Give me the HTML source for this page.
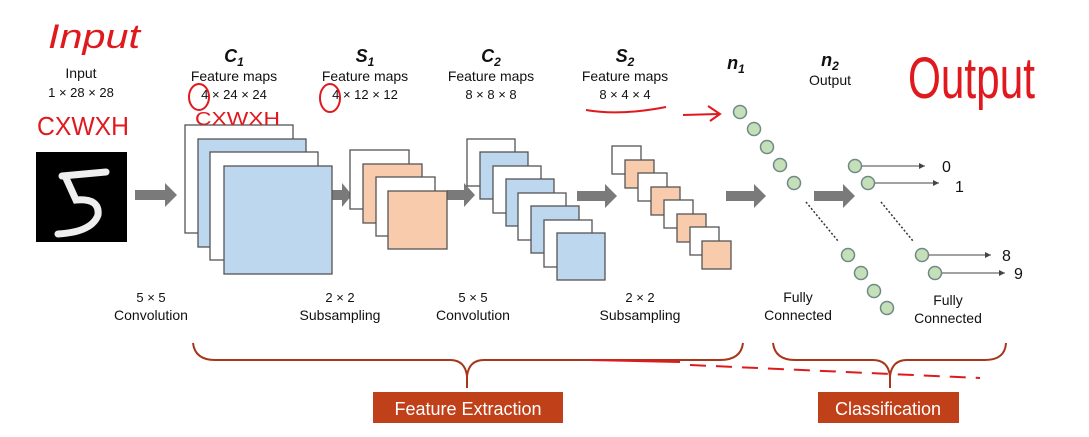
<!DOCTYPE html>
<html><head><meta charset="utf-8"><style>
html,body{margin:0;padding:0;background:#fff;}
svg{display:block;}
text{font-family:"Liberation Sans",sans-serif;}
</style></head><body>
<svg width="1089" height="437" viewBox="0 0 1089 437" xmlns="http://www.w3.org/2000/svg">
<defs>
<marker id="ah" markerWidth="8" markerHeight="8" refX="6" refY="3" orient="auto"><path d="M0,0 L6,3 L0,6 z" fill="#444"/></marker>
</defs>
<rect width="1089" height="437" fill="#fff"/>
<!-- top labels -->
<g fill="#111" font-size="14" text-anchor="middle">
<text x="81" y="78">Input</text>
<text x="81" y="97" font-size="13">1 × 28 × 28</text>
<text x="234" y="62" font-family="Liberation Serif" font-style="italic" font-weight="bold" font-size="18">C<tspan font-size="12" dy="4">1</tspan></text>
<text x="234" y="81">Feature maps</text>
<text x="234" y="99" font-size="13">4 × 24 × 24</text>
<text x="365" y="62" font-family="Liberation Serif" font-style="italic" font-weight="bold" font-size="18">S<tspan font-size="12" dy="4">1</tspan></text>
<text x="365" y="81">Feature maps</text>
<text x="365" y="99" font-size="13">4 × 12 × 12</text>
<text x="491" y="62" font-family="Liberation Serif" font-style="italic" font-weight="bold" font-size="18">C<tspan font-size="12" dy="4">2</tspan></text>
<text x="491" y="81">Feature maps</text>
<text x="491" y="99" font-size="13">8 × 8 × 8</text>
<text x="625" y="62" font-family="Liberation Serif" font-style="italic" font-weight="bold" font-size="18">S<tspan font-size="12" dy="4">2</tspan></text>
<text x="625" y="81">Feature maps</text>
<text x="625" y="99" font-size="13">8 × 4 × 4</text>
<text x="736" y="69" font-family="Liberation Serif" font-style="italic" font-weight="bold" font-size="18">n<tspan font-size="12" dy="4">1</tspan></text>
<text x="830" y="66" font-family="Liberation Serif" font-style="italic" font-weight="bold" font-size="18">n<tspan font-size="12" dy="4">2</tspan></text>
<text x="830" y="85">Output</text>
</g>
<!-- input image -->
<rect x="36" y="152" width="91" height="90" fill="#000"/>
<path d="M62,176 L106,172 M66,178 L76,200 Q100,198 98,215 Q92,232 58,234" stroke="#eee" stroke-width="7" fill="none" stroke-linecap="round"/>
<!-- gray arrows -->
<g fill="#7a7a7a">
<path d="M135,190 h30 v-7 l12,12 l-12,12 v-7 h-30z"/>
<path d="M332,190 h10 v-7 l10,12 l-10,12 v-7 h-10z"/>
<path d="M447,190 h17 v-7 l11,12 l-11,12 v-7 h-17z"/>
<path d="M577,191 h28 v-7 l12,12 l-12,12 v-7 h-28z"/>
<path d="M726,191 h28 v-7 l12,12 l-12,12 v-7 h-28z"/>
<path d="M814,191 h29 v-7 l12,12 l-12,12 v-7 h-29z"/>
</g>
<!-- C1 -->
<g stroke="#555" stroke-width="1.3">
<rect x="185" y="125" width="108" height="108" fill="#fff"/>
<rect x="198" y="139" width="108" height="108" fill="#bdd7ee"/>
<rect x="210" y="152" width="108" height="108" fill="#fff"/>
<rect x="224" y="166" width="108" height="108" fill="#bdd7ee"/>
<!-- S1 -->
<rect x="350" y="150" width="59" height="59" fill="#fff"/>
<rect x="363" y="164" width="59" height="59" fill="#f8cbad"/>
<rect x="376" y="177" width="59" height="59" fill="#fff"/>
<rect x="388" y="191" width="59" height="58" fill="#f8cbad"/>
<!-- C2 -->
<rect x="467" y="139" width="48" height="47" fill="#fff"/>
<rect x="480" y="152" width="48" height="47" fill="#bdd7ee"/>
<rect x="493" y="166" width="48" height="47" fill="#fff"/>
<rect x="506" y="179" width="48" height="47" fill="#bdd7ee"/>
<rect x="518" y="193" width="48" height="47" fill="#fff"/>
<rect x="531" y="206" width="48" height="47" fill="#bdd7ee"/>
<rect x="544" y="220" width="48" height="47" fill="#fff"/>
<rect x="557" y="233" width="48" height="47" fill="#bdd7ee"/>
<!-- S2 -->
<rect x="612" y="146" width="29" height="28" fill="#fff"/>
<rect x="625" y="160" width="29" height="28" fill="#f8cbad"/>
<rect x="638" y="173" width="29" height="28" fill="#fff"/>
<rect x="651" y="187" width="29" height="28" fill="#f8cbad"/>
<rect x="664" y="200" width="29" height="28" fill="#fff"/>
<rect x="677" y="214" width="29" height="28" fill="#f8cbad"/>
<rect x="690" y="227" width="29" height="28" fill="#fff"/>
<rect x="702" y="241" width="29" height="28" fill="#f8cbad"/>
</g>
<!-- neurons -->
<g fill="#c5dfb9" stroke="#6e8a86" stroke-width="1.5">
<circle cx="740" cy="112" r="6.5"/><circle cx="754" cy="129" r="6.5"/><circle cx="767" cy="147" r="6.5"/><circle cx="780" cy="165" r="6.5"/><circle cx="794" cy="183" r="6.5"/>
<circle cx="848" cy="255" r="6.5"/><circle cx="861" cy="273" r="6.5"/><circle cx="874" cy="291" r="6.5"/><circle cx="887" cy="308" r="6.5"/>
<circle cx="855" cy="166" r="6.5"/><circle cx="868" cy="183" r="6.5"/><circle cx="922" cy="255" r="6.5"/><circle cx="935" cy="273" r="6.5"/>
</g>
<g stroke="#333" stroke-width="1.5" stroke-dasharray="2,2">
<line x1="806" y1="202" x2="838" y2="241"/><line x1="881" y1="202" x2="913" y2="241"/>
</g>
<g stroke="#444" stroke-width="1" marker-end="url(#ah)">
<line x1="862" y1="166" x2="925" y2="166"/><line x1="875" y1="183" x2="939" y2="183"/>
<line x1="929" y1="255" x2="991" y2="255"/><line x1="942" y1="273" x2="1005" y2="273"/>
</g>
<g font-family="Liberation Serif" font-size="16" fill="#111">
<text x="942" y="172">0</text><text x="955" y="192">1</text><text x="1002" y="261">8</text><text x="1014" y="279">9</text>
</g>
<!-- bottom labels -->
<g fill="#111" font-size="14" text-anchor="middle">
<text x="151" y="302" font-size="13">5 × 5</text><text x="151" y="320">Convolution</text>
<text x="340" y="302" font-size="13">2 × 2</text><text x="340" y="320">Subsampling</text>
<text x="473" y="302" font-size="13">5 × 5</text><text x="473" y="320">Convolution</text>
<text x="640" y="302" font-size="13">2 × 2</text><text x="640" y="320">Subsampling</text>
<text x="798" y="302">Fully</text><text x="798" y="320">Connected</text>
<text x="948" y="305">Fully</text><text x="948" y="323">Connected</text>
</g>
<!-- braces -->
<g stroke="#a8361a" stroke-width="2" fill="none">
<path d="M193,343 Q195,360 215,360 L450,360 Q465,360 467,376 Q469,360 484,360 L720,360 Q741,360 743,343"/>
<line x1="467" y1="374" x2="467" y2="388"/>
<path d="M773,343 Q775,360 795,360 L873,360 Q888,360 890,376 Q892,360 907,360 L985,360 Q1005,360 1006,343"/>
<line x1="890" y1="374" x2="890" y2="388"/>
</g>
<rect x="373" y="392" width="190" height="31" fill="#c0401a"/>
<text x="468" y="415" fill="#fff" font-size="18" text-anchor="middle">Feature Extraction</text>
<rect x="818" y="392" width="141" height="31" fill="#c0401a"/>
<text x="888" y="415" fill="#fff" font-size="18" text-anchor="middle">Classification</text>
<!-- red annotations -->
<g fill="#e0191e" font-family="DejaVu Sans" >
<text x="48" y="48" font-size="34" font-style="italic" font-weight="300" textLength="92" lengthAdjust="spacingAndGlyphs">Input</text>
<text x="37" y="135" font-size="26" textLength="92" lengthAdjust="spacingAndGlyphs">CXWXH</text>
<text x="195" y="125" font-size="18" textLength="85" lengthAdjust="spacingAndGlyphs">CXWXH</text>
<text x="908" y="98" font-size="58" font-weight="300" textLength="127" lengthAdjust="spacingAndGlyphs">Output</text>
</g>
<g stroke="#e0191e" stroke-width="2" fill="none">
<ellipse cx="199" cy="97" rx="10" ry="13"/>
<ellipse cx="330" cy="98" rx="10" ry="14"/>
<path d="M586,110 Q620,116 666,107"/>
<path d="M683,115 L718,114 M708,106 L720,114 L710,121"/>
<path d="M590,360 L680,362" />
<path d="M690,365 L980,378" stroke-dasharray="16,10"/>
</g>
</svg>
</body></html>
